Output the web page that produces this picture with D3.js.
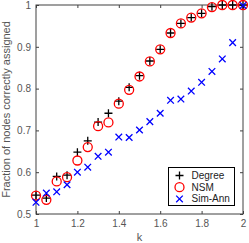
<!DOCTYPE html>
<html>
<head>
<meta charset="utf-8">
<script src="https://cdn.jsdelivr.net/npm/d3@7"></script>
<style>
  body { margin: 0; background: #fff; }
  text { font-family: "Liberation Sans", Arial, sans-serif; }
</style>
</head>
<body>
<div id="chart"></div>
<script>
// values
var kValues = [1.00, 1.05, 1.10, 1.15, 1.20, 1.25, 1.30, 1.35, 1.40, 1.45, 1.50,
               1.55, 1.60, 1.65, 1.70, 1.75, 1.80, 1.85, 1.90, 1.95, 2.00];
var degree = [0.545, 0.538, 0.590, 0.593, 0.648, 0.675, 0.720, 0.741, 0.770, 0.803, 0.831,
              0.866, 0.894, 0.933, 0.956, 0.970, 0.980, 0.996, 1.000, 1.000, 1.000];
var nsm = [0.544, 0.534, 0.578, 0.588, 0.628, 0.660, 0.710, 0.719, 0.764, 0.797, 0.829,
           0.865, 0.894, 0.933, 0.956, 0.970, 0.980, 0.995, 1.000, 1.000, 1.000];
var simAnn = [0.528, 0.550, 0.553, 0.570, 0.600, 0.612, 0.638, 0.648, 0.684, 0.683, 0.701,
              0.721, 0.741, 0.772, 0.775, 0.794, 0.815, 0.841, 0.871, 0.910, 0.999];
var xTicks = [1, 1.2, 1.4, 1.6, 1.8, 2];
var yTicks = [0.5, 0.6, 0.7, 0.8, 0.9, 1];
var seriesNames = ["Degree", "NSM", "Sim-Ann"];

var cfg = {
  width: 249,
  height: 243,
  margin: { top: 5, left: 36, right: 6, bottom: 29 },
  axisColor: "#404040"
};
var w = cfg.width - cfg.margin.left - cfg.margin.right,
    h = cfg.height - cfg.margin.top - cfg.margin.bottom;

var svg = d3.select("#chart").append("svg")
    .attr("width", cfg.width)
    .attr("height", cfg.height);

var g = svg.append("g")
    .attr("transform", "translate(" + cfg.margin.left + "," + cfg.margin.top + ")");

var x = d3.scaleLinear().domain([1, 2]).range([0, w]);
var y = d3.scaleLinear().domain([0.5, 1]).range([h, 0]);

// axes, MATLAB style: ticks inward, box on
function styleAxis(sel) {
  sel.select(".domain").remove();
  sel.selectAll("line").attr("stroke", cfg.axisColor);
  sel.selectAll("text").attr("fill", "#555").style("font-size", "10px");
}
var fmt = function(d) { return d3.format("")(+d.toFixed(1)); };

g.append("g").attr("transform", "translate(0," + h + ")")
  .call(d3.axisBottom(x).tickValues(xTicks).tickSize(-3).tickPadding(6).tickFormat(fmt))
  .call(styleAxis);
g.append("g")
  .call(d3.axisTop(x).tickValues(xTicks).tickSize(-3).tickFormat(""))
  .call(styleAxis);
g.append("g")
  .call(d3.axisLeft(y).tickValues(yTicks).tickSize(-3).tickPadding(5).tickFormat(fmt))
  .call(styleAxis);
g.append("g").attr("transform", "translate(" + w + ",0)")
  .call(d3.axisRight(y).tickValues(yTicks).tickSize(-3).tickFormat(""))
  .call(styleAxis);

g.append("rect")
  .attr("width", w).attr("height", h)
  .attr("fill", "none")
  .attr("stroke", cfg.axisColor)
  .attr("stroke-width", 1);

// labels
svg.append("text")
  .attr("x", cfg.margin.left + w / 2)
  .attr("y", 241)
  .attr("text-anchor", "middle")
  .attr("fill", "#555")
  .style("font-size", "11px")
  .text("k");
svg.append("text")
  .attr("transform", "translate(10," + (cfg.margin.top + h / 2) + ") rotate(-90)")
  .attr("text-anchor", "middle")
  .attr("fill", "#555")
  .style("font-size", "11px")
  .text("Fraction of nodes correctly assigned");

// markers
var plusPath = "M-4,0H4M0,-4V4";
var crossPath = "M-3.3,-3.3L3.3,3.3M-3.3,3.3L3.3,-3.3";

function drawMarker(sel, kind) {
  if (kind === 0) {
    sel.append("path").attr("d", plusPath).attr("stroke", "#000").attr("stroke-width", 1.3);
  } else if (kind === 1) {
    sel.append("circle").attr("r", 4.5).attr("fill", "none")
      .attr("stroke", "#ff0000").attr("stroke-width", 1.3);
  } else {
    sel.append("path").attr("d", crossPath).attr("stroke", "#0000ff").attr("stroke-width", 1.3);
  }
}

[degree, nsm, simAnn].forEach(function(vals, s) {
  g.append("g").selectAll("g")
    .data(vals)
    .enter().append("g")
      .attr("transform", function(d, i) { return "translate(" + x(kValues[i]) + "," + y(d) + ")"; })
      .each(function() { drawMarker(d3.select(this), s); });
});

// legend
var legend = svg.append("g").attr("transform", "translate(168.5,167.5)");
legend.append("rect")
  .attr("width", 66).attr("height", 38)
  .attr("fill", "#fff")
  .attr("stroke", "#000")
  .attr("stroke-width", 1);
seriesNames.forEach(function(name, i) {
  var row = legend.append("g").attr("transform", "translate(0," + (8 + i * 11.7) + ")");
  drawMarker(row.append("g").attr("transform", "translate(11,0)"), i);
  row.append("text")
    .attr("x", 23).attr("y", 3.5)
    .attr("fill", "#222")
    .style("font-size", "10px")
    .text(name);
});
</script>
</body>
</html>
